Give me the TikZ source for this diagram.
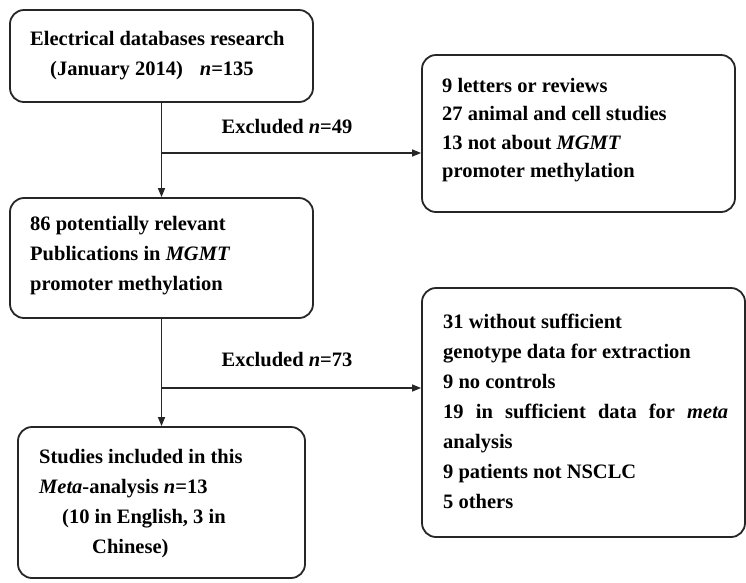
\documentclass[tikz,border=0pt]{standalone}
\usepackage{fontspec}
\setmainfont{Liberation Serif}
\usetikzlibrary{positioning, arrows.meta}

\begin{document}
\begin{tikzpicture}[
    x=1pt, y=-1pt,
    box/.style={rectangle, draw=black!85, line width=1.8pt, rounded corners=14pt},
    txt/.style={anchor=base west, inner sep=0pt, align=left,
                font=\fontsize{20.5}{30}\selectfont\bfseries},
    exlabel/.style={anchor=base, inner sep=0pt, font=\fontsize{20.5}{30}\selectfont\bfseries},
    arrow/.style={-{Triangle[length=9pt, width=7pt]}, line width=1.3pt, black!85}
]
    \useasboundingbox (0,0) rectangle (746,582);

    % Main boxes
    \node[box, minimum width=303pt, minimum height=92pt] (search) at (161.5,56) {};
    \node[box, minimum width=303pt, minimum height=120pt] (relevant) at (161.5,258) {};
    \node[box, minimum width=287pt, minimum height=151pt] (included) at (161.5,502.5) {};

    % Exclusion boxes
    \node[box, minimum width=313pt, minimum height=157pt] (excl1) at (578.5,133.5) {};
    \node[box, minimum width=323pt, minimum height=249pt] (excl2) at (583.5,412.5) {};

    % Box texts (placed at the baseline of the last line)
    \node[txt] (searchtxt) at (30,75) {Electrical databases research\\
        \hspace*{20pt}(January 2014)\hspace{17pt}\textit{n}=135};
    \node[txt] (relevanttxt) at (30,290) {86 potentially relevant\\
        Publications in \textit{MGMT}\\promoter methylation};
    \node[txt] (includedtxt) at (39,553) {Studies included in this\\
        \textit{Meta}-analysis \textit{n}=13\\
        \hspace*{23pt}(10 in English, 3 in\\\hspace*{53pt}Chinese)};
    \node[txt, font=\fontsize{20.5}{28.5}\selectfont\bfseries] (excl1txt) at (442,177.5)
        {9 letters or reviews\\27 animal and cell studies\\
         13 not about \textit{MGMT}\\promoter methylation};
    \node[txt] (excl2txt) at (443,508) {31 without sufficient\\
        genotype data for extraction\\9 no controls\\
        \makebox[285pt][s]{19 in sufficient data for \textit{meta}}\\
        analysis\\9 patients not NSCLC\\5 others};

    % Main flow
    \draw[arrow] (search.south) -- (relevant.north);
    \draw[arrow] (relevant.south) -- (included.north);

    % Exclusions
    \coordinate (split1) at (search.south |- 0,153);
    \coordinate (split2) at (relevant.south |- 0,388);
    \draw[arrow] (split1) -- (split1 -| excl1.west);
    \draw[arrow] (split2) -- (split2 -| excl2.west);
    \node[exlabel] (exn1) at (287,133) {Excluded \textit{n}=49};
    \node[exlabel] (exn2) at (287,366) {Excluded \textit{n}=73};
\end{tikzpicture}
\end{document}
